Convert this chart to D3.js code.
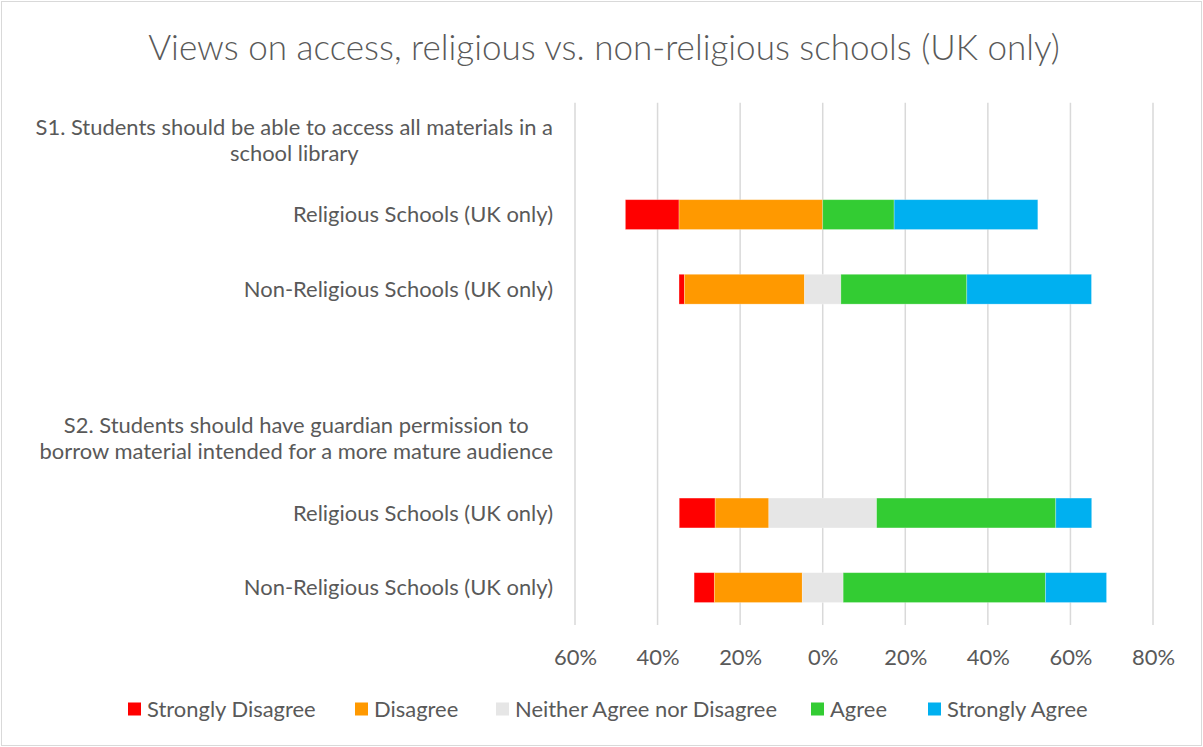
<!DOCTYPE html>
<html><head><meta charset="utf-8">
<script src="https://cdn.jsdelivr.net/npm/d3@7"></script>
<style>
body{margin:0;background:#fff}
svg{display:block}
text{font-family:Lato,"Open Sans",sans-serif;fill:#595959}
</style>
</head><body>
<svg id="chart" width="1203" height="747"></svg>
<script>
// ---------- DATA ----------
const categories = [
  "S1. Students should be able to access all materials in a\nschool library",
  "Religious Schools (UK only)",
  "Non-Religious Schools (UK only)",
  "",
  "S2. Students should have guardian permission to\nborrow material intended for a more mature audience",
  "Religious Schools (UK only)",
  "Non-Religious Schools (UK only)"
];
const stronglyDisagree = [null, 13.0, 1.3, null, null, 8.7, 4.9];
const disagree         = [null, 34.8, 29.1, null, null, 13.0, 21.3];
const neither          = [null, 0.0, 8.8, null, null, 26.1, 9.9];
const agree            = [null, 17.3, 30.5, null, null, 43.4, 49.0];
const stronglyAgree    = [null, 34.8, 30.2, null, null, 8.7, 14.8];
const seriesNames  = ["Strongly Disagree","Disagree","Neither Agree nor Disagree","Agree","Strongly Agree"];
const seriesColors = ["#FF0000","#FF9900","#E6E6E6","#33CC33","#00B0F0"];
const xTicks = [-60,-40,-20,0,20,40,60,80];
const chartTitle = "Views on access, religious vs. non-religious schools (UK only)";

// ---------- SETUP ----------
const W = 1203, H = 747;
const svg = d3.select("#chart");
const FONT = 'Lato, "Open Sans", sans-serif';

function fitSize(str, target, weight){
  const t = svg.append("text").attr("font-size",100).attr("font-weight",weight||400).text(str);
  const w = t.node().getComputedTextLength(); t.remove();
  return 100*target/w;
}
const labelSize = fitSize("Religious Schools (UK only)", 260);
const titleSize = fitSize(chartTitle, 912, 300);

// border
svg.append("rect").attr("x",1.5).attr("y",1.5).attr("width",W-3).attr("height",H-3)
  .attr("fill","#fff").attr("stroke","#d9d9d9").attr("stroke-width",1);

// title
svg.append("text").attr("x",604).attr("y",48).attr("dy","0.35em")
  .attr("text-anchor","middle").attr("font-size",titleSize).attr("font-weight",300)
  .text(chartTitle);

const x = d3.scaleLinear().domain([-60,80]).range([575,1153]);
const y = d3.scaleBand().domain(d3.range(categories.length))
  .range([102.7,624.9]).paddingInner(0.6).paddingOuter(0.3);

// gridlines
svg.append("g").selectAll("line").data(xTicks).join("line")
  .attr("x1",d=>x(d)).attr("x2",d=>x(d)).attr("y1",102.7).attr("y2",624.9)
  .attr("stroke","#d9d9d9").attr("stroke-width",1.5);

// x axis
const xAxis = svg.append("g").attr("transform","translate(0,624.9)")
  .call(d3.axisBottom(x).tickValues(xTicks).tickFormat(d=>Math.abs(d)+"%").tickSize(0));
xAxis.select(".domain").remove();
xAxis.selectAll("text").attr("y",32).attr("dy","0.35em")
  .attr("font-size",labelSize).attr("font-family",FONT).attr("fill","#595959");

// y axis (category labels)
const yAxis = svg.append("g").attr("transform","translate(553,0)")
  .call(d3.axisLeft(y).tickFormat(i=>categories[i]).tickSize(0).tickPadding(0));
yAxis.select(".domain").remove();
yAxis.selectAll(".tick").each(function(i){
  const g = d3.select(this);
  const t = g.select("text");
  const lines = categories[i].split("\n");
  t.attr("font-size",labelSize).attr("font-family",FONT).attr("fill","#595959");
  if(lines.length===1){
    t.attr("text-anchor","end").attr("x",0).attr("dy","0.35em").text(lines[0]);
  } else {
    const lh = 26;
    t.remove();
    const texts = lines.map((ln,k)=>g.append("text")
      .attr("font-size",labelSize).attr("font-family",FONT).attr("fill","#595959")
      .attr("text-anchor","middle")
      .attr("y",(k-(lines.length-1)/2)*lh).attr("dy","0.35em").text(ln));
    const maxW = d3.max(texts, s=>s.node().getComputedTextLength());
    texts.forEach(s=>s.attr("x",-maxW/2));
  }
});

// stacked diverging bars
const seriesVals = [stronglyDisagree, disagree, neither, agree, stronglyAgree];
const segs = [];
categories.forEach((c,i)=>{
  if(stronglyDisagree[i]==null) return;
  let start = -(stronglyDisagree[i] + disagree[i] + neither[i]/2);
  seriesVals.forEach((arr,s)=>{
    const v = arr[i];
    segs.push({i, s, x0:start, x1:start+v});
    start += v;
  });
});
svg.append("g").selectAll("rect").data(segs.filter(d=>d.x1-d.x0>0)).join("rect")
  .attr("x",d=>x(d.x0)).attr("width",d=>x(d.x1)-x(d.x0))
  .attr("y",d=>y(d.i)).attr("height",y.bandwidth())
  .attr("fill",d=>seriesColors[d.s])
  .attr("stroke","#ffffff").attr("stroke-opacity",0.35).attr("stroke-width",0.75);

// legend
const legendX = [128, 355, 496, 811, 928];
const lg = svg.append("g").selectAll("g").data(seriesNames).join("g")
  .attr("transform",(d,k)=>`translate(${legendX[k]},709)`);
lg.append("rect").attr("x",0).attr("y",-6.5).attr("width",13).attr("height",13)
  .attr("fill",(d,k)=>seriesColors[k]);
lg.append("text").attr("x",19).attr("dy","0.35em").attr("font-size",labelSize).text(d=>d);
</script>
</body></html>
